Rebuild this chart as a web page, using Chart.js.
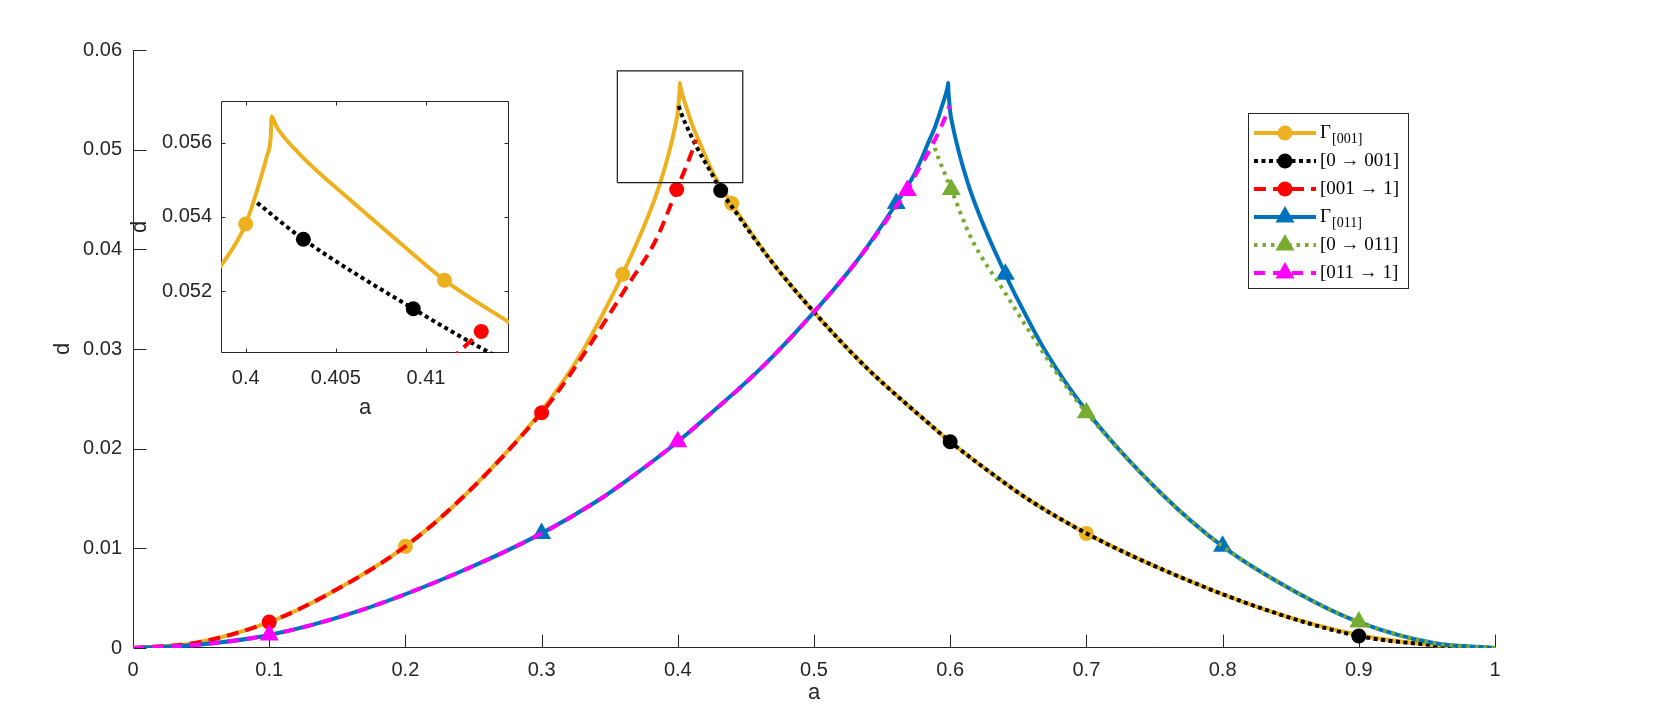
<!DOCTYPE html>
<html>
<head>
<meta charset="utf-8">
<script src="https://cdn.jsdelivr.net/npm/chart.js@4.4.1/dist/chart.umd.min.js"></script>
<style>
  body { margin: 0; background: #fff; }
  #wrap { position: relative; width: 1654px; height: 710px; }
  #main { position: absolute; left: 0; top: 0; }
  #inset { position: absolute; left: 120px; top: 80px; }
</style>
</head>
<body>
<div id="wrap">
  <canvas id="main" width="1654" height="710"></canvas>
  <canvas id="inset" width="400" height="345"></canvas>
</div>
<script>
// axis ticks
const xTicks = [0, 0.1, 0.2, 0.3, 0.4, 0.5, 0.6, 0.7, 0.8, 0.9, 1];
const xTickLabels = ['0', '0.1', '0.2', '0.3', '0.4', '0.5', '0.6', '0.7', '0.8', '0.9', '1'];
const yTicks = [0, 0.01, 0.02, 0.03, 0.04, 0.05, 0.06];
const yTickLabels = ['0', '0.01', '0.02', '0.03', '0.04', '0.05', '0.06'];
const insetXTicks = [0.4, 0.405, 0.41];
const insetXTickLabels = ['0.4', '0.405', '0.41'];
const insetYTicks = [0.052, 0.054, 0.056];
const insetYTickLabels = ['0.052', '0.054', '0.056'];
const insetXRange = [0.39863, 0.41461];
const insetYRange = [0.05034, 0.05712];

// Γ[001]
const g001X = [0, 0.045, 0.1, 0.1446, 0.2, 0.245, 0.3, 0.3306, 0.3502, 0.3595, 0.3869, 0.39867, 0.4, 0.40098, 0.40117, 0.40139, 0.40144,
  0.40172, 0.40302, 0.40579, 0.40857, 0.41103, 0.41463, 0.4261, 0.4396, 0.4687, 0.5007, 0.5387, 0.5837, 0.6, 0.6366, 0.6586, 0.7, 0.7589, 0.8324, 0.9, 0.9547, 1];
const g001Y = [0, 0.0005, 0.0026, 0.0055, 0.0102, 0.0155, 0.0238, 0.0299, 0.0349, 0.0375, 0.0466, 0.05272, 0.05381, 0.05529, 0.05563, 0.05616, 0.0567,
  0.05642, 0.05568, 0.05446, 0.0533, 0.0523, 0.05116, 0.0476, 0.0446, 0.0388, 0.0336, 0.0281, 0.0226, 0.0207, 0.0169, 0.0148, 0.0115, 0.0077, 0.0038, 0.0013, 0.0003, 0];
const g001Marks = [0.2, 0.3595, 0.4396, 0.7];
const g001InsetMarks = [0.4, 0.41103];

// [0 -> 001]
const to001X = [0.40064, 0.4032, 0.4093, 0.41357, 0.4261, 0.4315, 0.4396, 0.4687, 0.5007, 0.5387, 0.5837, 0.6, 0.6366, 0.6586, 0.7, 0.7589, 0.8324, 0.9, 0.9547, 1];
const to001Y = [0.05438, 0.0534, 0.05153, 0.05034, 0.0473, 0.0459, 0.0443, 0.0388, 0.0336, 0.0281, 0.0226, 0.0207, 0.0169, 0.0148, 0.0115, 0.0077, 0.0038, 0.0012, 0.0003, 0];
const to001Marks = [0.4315, 0.6, 0.9];
const to001InsetMarks = [0.4032, 0.4093];

// [001 -> 1]
const from001X = [0, 0.045, 0.1, 0.1446, 0.2, 0.245, 0.3, 0.3111, 0.3282, 0.3527, 0.36, 0.3845, 0.3992, 0.41176, 0.4123, 0.41307, 0.4133];
const from001Y = [0, 0.0005, 0.0026, 0.0055, 0.0102, 0.0155, 0.0236, 0.02555, 0.0289, 0.0341, 0.0357, 0.0411, 0.046, 0.05034, 0.05058, 0.05092, 0.051];
const from001Marks = [0.1, 0.3, 0.3992];
const from001InsetMarks = [0.41307];

// Γ[011]
const g011X = [0, 0.0453, 0.1, 0.1676, 0.2411, 0.3, 0.3414, 0.3634, 0.4, 0.4163, 0.4613, 0.4993, 0.5313, 0.5604, 0.5739, 0.58537, 0.58897, 0.59143, 0.59421, 0.59698, 0.59828, 0.59856,
  0.59861, 0.59883, 0.59902, 0.6, 0.60133, 0.6131, 0.6405, 0.6498, 0.6694, 0.7, 0.755, 0.8, 0.8554, 0.9, 0.955, 1];
const g011Y = [0, 0.0003, 0.0013, 0.0038, 0.0077, 0.0115, 0.0148, 0.0169, 0.0207, 0.0226, 0.0281, 0.0336, 0.0388, 0.0446, 0.0476, 0.05116, 0.0523, 0.0533, 0.05446, 0.05568, 0.05642, 0.0567,
  0.05616, 0.05563, 0.05529, 0.05381, 0.05272, 0.0466, 0.0375, 0.0349, 0.0299, 0.0238, 0.0155, 0.0102, 0.0055, 0.0026, 0.0005, 0];
const g011Marks = [0.3, 0.5604, 0.6405, 0.8];

// [0 -> 011]
const to011X = [0.5867, 0.58693, 0.5877, 0.58824, 0.6008, 0.6155, 0.64, 0.6473, 0.6718, 0.6889, 0.7, 0.755, 0.8, 0.8554, 0.9, 0.955, 1];
const to011Y = [0.051, 0.05092, 0.05058, 0.05034, 0.046, 0.0411, 0.0357, 0.0341, 0.0289, 0.02555, 0.0236, 0.0155, 0.0102, 0.0055, 0.0026, 0.0005, 0];
const to011Marks = [0.6008, 0.7, 0.9];

// [011 -> 1]
const from011X = [0, 0.0453, 0.1, 0.1676, 0.2411, 0.3, 0.3414, 0.3634, 0.4, 0.4163, 0.4613, 0.4993, 0.5313, 0.5604, 0.5685, 0.5739, 0.58643, 0.5907, 0.5968, 0.59936];
const from011Y = [0, 0.0003, 0.0013, 0.0038, 0.0077, 0.0115, 0.0148, 0.0169, 0.0207, 0.0226, 0.0281, 0.0336, 0.0388, 0.0443, 0.0459, 0.0473, 0.05034, 0.05153, 0.0534, 0.05438];
const from011Marks = [0.1, 0.4, 0.5685];

// zoom rectangle in the main axes
const zoomBoxX = [0.3556, 0.4477, 0.4477, 0.3556, 0.3556];
const zoomBoxY = [0.0467, 0.0467, 0.0579, 0.0579, 0.0467];

const styles = {
  g001: { color: '#EDB120', dash: [], marker: 'circle' },
  to001: { color: '#000000', dash: [4, 3.5], marker: 'circle' },
  from001: { color: '#FF0000', dash: [12, 7], marker: 'circle' },
  g011: { color: '#0072BD', dash: [], marker: 'triangle' },
  to011: { color: '#77AC30', dash: [3.5, 5], marker: 'triangle' },
  from011: { color: '#FF00FF', dash: [11, 8], marker: 'triangle' }
};
const AXIS = '#262626';
const SANS = '"Liberation Sans", Arial, sans-serif';
const SERIF = '"Liberation Serif", "DejaVu Serif", serif';
const LW = 4;

function toPts(xs, ys) {
  return xs.map((x, i) => ({ x: x, y: ys[i] }));
}

function lineSet(key, xs, ys, marks) {
  const s = styles[key];
  const r = s.marker === 'triangle' ? 11 : 7.5;
  return {
    label: key,
    data: toPts(xs, ys),
    borderColor: s.color,
    backgroundColor: s.color,
    borderWidth: LW,
    borderDash: s.dash,
    borderCapStyle: 'butt',
    pointStyle: s.marker,
    pointBackgroundColor: s.color,
    pointBorderWidth: 0,
    pointRadius: c => (c.raw && marks.includes(c.raw.x)) ? r : 0,
    cubicInterpolationMode: 'monotone',
    clip: 0
  };
}

// axes lines with inward ticks (MATLAB look)
function framePlugin(box, len) {
  return {
    id: 'frame',
    beforeDatasetsDraw(chart) {
      const { ctx, chartArea: a, scales } = chart;
      const L = Math.round(a.left) + 0.5, R = Math.round(a.right) - 0.5;
      const T = Math.round(a.top) + 0.5, B = Math.round(a.bottom) - 0.5;
      ctx.save();
      ctx.strokeStyle = AXIS;
      ctx.lineWidth = 1;
      ctx.beginPath();
      ctx.moveTo(L, box ? T : a.top);
      ctx.lineTo(L, B);
      ctx.lineTo(box ? R : a.right, B);
      if (box) { ctx.lineTo(R, T); ctx.lineTo(L, T); }
      scales.x.ticks.forEach(t => {
        const p = Math.round(scales.x.getPixelForValue(t.value)) + 0.5;
        ctx.moveTo(p, B); ctx.lineTo(p, B - len);
        if (box) { ctx.moveTo(p, T); ctx.lineTo(p, T + len); }
      });
      scales.y.ticks.forEach(t => {
        const p = Math.round(scales.y.getPixelForValue(t.value)) + 0.5;
        ctx.moveTo(L, p); ctx.lineTo(L + len, p);
        if (box) { ctx.moveTo(R, p); ctx.lineTo(R - len, p); }
      });
      ctx.stroke();
      ctx.restore();
    }
  };
}

const legendItems = [
  { key: 'g001', text: 'Γ', sub: '[001]' },
  { key: 'to001', text: '[0 → 001]' },
  { key: 'from001', text: '[001 → 1]' },
  { key: 'g011', text: 'Γ', sub: '[011]' },
  { key: 'to011', text: '[0 → 011]' },
  { key: 'from011', text: '[011 → 1]' }
];

const legendPlugin = {
  id: 'matLegend',
  afterDraw(chart) {
    const ctx = chart.ctx;
    const L = 1248, T = 113, W = 160, H = 175;
    ctx.save();
    ctx.fillStyle = '#fff';
    ctx.fillRect(L, T, W, H);
    ctx.strokeStyle = AXIS;
    ctx.lineWidth = 1;
    ctx.strokeRect(L + 0.5, T + 0.5, W, H);
    legendItems.forEach((it, i) => {
      const s = styles[it.key];
      const y = T + 20 + i * 28;
      ctx.strokeStyle = s.color;
      ctx.lineWidth = LW;
      ctx.lineCap = 'butt';
      ctx.setLineDash(s.dash);
      ctx.beginPath();
      ctx.moveTo(1254, y);
      ctx.lineTo(1316, y);
      ctx.stroke();
      ctx.setLineDash([]);
      ctx.fillStyle = s.color;
      ctx.beginPath();
      if (s.marker === 'circle') {
        ctx.arc(1285, y, 7.5, 0, Math.PI * 2);
      } else {
        const r = 11;
        ctx.moveTo(1285, y - r);
        ctx.lineTo(1285 + r * Math.sin(2 * Math.PI / 3), y - r * Math.cos(2 * Math.PI / 3));
        ctx.lineTo(1285 + r * Math.sin(4 * Math.PI / 3), y - r * Math.cos(4 * Math.PI / 3));
        ctx.closePath();
      }
      ctx.fill();
      ctx.fillStyle = '#000';
      ctx.textBaseline = 'middle';
      ctx.textAlign = 'left';
      ctx.font = '19px ' + SERIF;
      ctx.fillText(it.text, 1320, y);
      if (it.sub) {
        const w = ctx.measureText(it.text).width;
        ctx.font = '14px ' + SERIF;
        ctx.fillText(it.sub, 1320 + w + 1, y + 6);
      }
    });
    ctx.restore();
  }
};

function fixedTicks(values) {
  return s => { s.ticks = values.map(v => ({ value: v })); };
}

// main chart
new Chart(document.getElementById('main'), {
  type: 'line',
  data: {
    datasets: [
      {
        label: 'zoom box',
        data: toPts(zoomBoxX, zoomBoxY),
        borderColor: '#1a1a1a',
        borderWidth: 1.2,
        pointRadius: 0,
        tension: 0,
        clip: false
      },
      lineSet('from011', from011X, from011Y, from011Marks),
      lineSet('to011', to011X, to011Y, to011Marks),
      lineSet('g011', g011X, g011Y, g011Marks),
      lineSet('from001', from001X, from001Y, from001Marks),
      lineSet('to001', to001X, to001Y, to001Marks),
      lineSet('g001', g001X, g001Y, g001Marks)
    ]
  },
  options: {
    responsive: false,
    animation: false,
    events: [],
    devicePixelRatio: 1,
    layout: { padding: { top: 50, right: 159, left: 0, bottom: 0 } },
    elements: { line: { capBezierPoints: false } },
    plugins: { legend: { display: false }, tooltip: { enabled: false } },
    scales: {
      x: {
        type: 'linear',
        min: 0,
        max: 1,
        afterBuildTicks: fixedTicks(xTicks),
        afterFit: s => { s.height = 62; },
        grid: { display: false, drawTicks: false },
        border: { display: false },
        ticks: {
          autoSkip: false,
          maxRotation: 0,
          padding: 10,
          color: AXIS,
          font: { family: SANS, size: 20 },
          callback: (v, i) => xTickLabels[i]
        },
        title: { display: true, text: 'a', color: AXIS, font: { family: SANS, size: 22 }, padding: { top: 0, bottom: 4 } }
      },
      y: {
        min: 0,
        max: 0.06,
        afterBuildTicks: fixedTicks(yTicks),
        afterFit: s => { s.width = 133; },
        grid: { display: false, drawTicks: false },
        border: { display: false },
        ticks: {
          autoSkip: false,
          padding: 11,
          color: AXIS,
          font: { family: SANS, size: 20 },
          callback: (v, i) => yTickLabels[i]
        },
        title: { display: true, text: 'd', color: AXIS, font: { family: SANS, size: 22 }, padding: { top: 50, bottom: 0 } }
      }
    }
  },
  plugins: [framePlugin(false, 13), legendPlugin]
});

// inset chart
new Chart(document.getElementById('inset'), {
  type: 'line',
  data: {
    datasets: [
      lineSet('from001', from001X, from001Y, from001InsetMarks),
      lineSet('to001', to001X, to001Y, to001InsetMarks),
      lineSet('g001', g001X, g001Y, g001InsetMarks)
    ]
  },
  options: {
    responsive: false,
    animation: false,
    events: [],
    devicePixelRatio: 1,
    layout: { padding: { top: 13, right: 11, left: 0, bottom: 0 } },
    elements: { line: { capBezierPoints: false } },
    plugins: { legend: { display: false }, tooltip: { enabled: false } },
    scales: {
      x: {
        type: 'linear',
        min: insetXRange[0],
        max: insetXRange[1],
        afterBuildTicks: fixedTicks(insetXTicks),
        afterFit: s => { s.height = 72; },
        grid: { display: false, drawTicks: false },
        border: { display: false },
        ticks: {
          autoSkip: false,
          maxRotation: 0,
          padding: 13,
          color: AXIS,
          font: { family: SANS, size: 20 },
          callback: (v, i) => insetXTickLabels[i]
        },
        title: { display: true, text: 'a', color: AXIS, font: { family: SANS, size: 22 }, padding: { top: 0, bottom: 4 } }
      },
      y: {
        min: insetYRange[0],
        max: insetYRange[1],
        afterBuildTicks: fixedTicks(insetYTicks),
        afterFit: s => { s.width = 101; },
        grid: { display: false, drawTicks: false },
        border: { display: false },
        ticks: {
          autoSkip: false,
          padding: 9,
          color: AXIS,
          font: { family: SANS, size: 20 },
          callback: (v, i) => insetYTickLabels[i]
        },
        title: { display: true, text: 'd', color: AXIS, font: { family: SANS, size: 22 }, padding: { top: 7, bottom: 0 } }
      }
    }
  },
  plugins: [framePlugin(true, 4)]
});
</script>
</body>
</html>
